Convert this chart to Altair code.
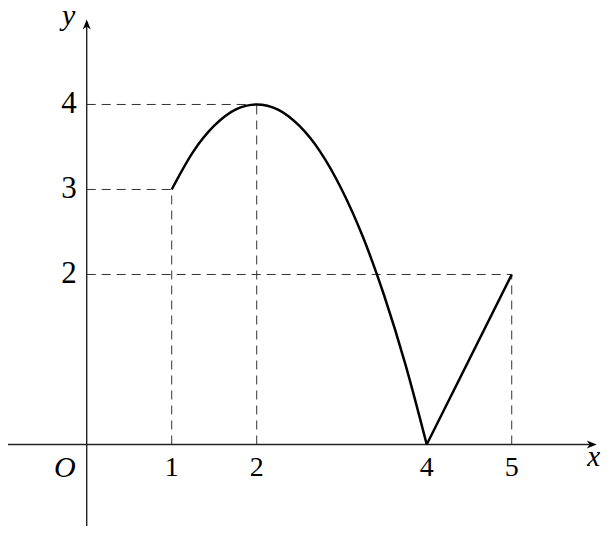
import altair as alt
import pandas as pd

# ---- data ----
curve_x = [1.0, 1.25, 1.5, 1.75, 2.0, 2.25, 2.5, 2.75, 3.0, 3.25, 3.5, 3.75, 4.0]
curve_y = [3.0, 3.44, 3.75, 3.94, 4.0, 3.94, 3.75, 3.44, 3.0, 2.44, 1.75, 0.94, 0.0]
seg_x = [4, 5]
seg_y = [0, 2]
key_x = [1, 2, 5]          # points with dashed guides
key_y = [3, 4, 2]
xtick_vals = [1, 2, 4, 5]
ytick_vals = [2, 3, 4]
x_axis_range = [-1, 6]
y_axis_range = [-1, 5]

FONT = "'Liberation Serif', 'Times New Roman', Times, serif"
xs = alt.Scale(domain=[-0.926, 6.062], nice=False, zero=False)
ys = alt.Scale(domain=[-0.959, 5.135], nice=False, zero=False)

curve_df = pd.DataFrame({"x": curve_x, "y": curve_y})
seg_df = pd.DataFrame({"x": seg_x, "y": seg_y})
key_df = pd.DataFrame({"x": key_x, "y": key_y, "x0": [0] * len(key_x), "y0": [0] * len(key_y)})
xt_df = pd.DataFrame({"x": xtick_vals, "y": [0] * len(xtick_vals), "t": [str(v) for v in xtick_vals]})
yt_df = pd.DataFrame({"x": [0] * len(ytick_vals), "y": ytick_vals, "t": [str(v) for v in ytick_vals]})
xaxis_df = pd.DataFrame({"x": [x_axis_range[0]], "x2": [x_axis_range[1] - 0.05], "y": [0]})
yaxis_df = pd.DataFrame({"y": [y_axis_range[0]], "y2": [y_axis_range[1] - 0.05], "x": [0]})
xarrow_df = pd.DataFrame({"x": [x_axis_range[1]], "y": [0]})
yarrow_df = pd.DataFrame({"x": [0], "y": [y_axis_range[1]]})
orig_df = pd.DataFrame({"x": [0], "y": [0], "t": ["O"]})
xlab_df = pd.DataFrame({"x": [x_axis_range[1]], "y": [0], "t": ["x"]})
ylab_df = pd.DataFrame({"x": [0], "y": [y_axis_range[1]], "t": ["y"]})

AX = "#222222"
DASH = "#333333"

x_axis = alt.Chart(xaxis_df).mark_rule(color=AX, strokeWidth=1.4).encode(
    x=alt.X("x:Q", scale=xs, axis=None), x2="x2:Q", y=alt.Y("y:Q", scale=ys, axis=None))
y_axis = alt.Chart(yaxis_df).mark_rule(color=AX, strokeWidth=1.4).encode(
    y=alt.Y("y:Q", scale=ys, axis=None), y2="y2:Q", x=alt.X("x:Q", scale=xs, axis=None))

x_arrow = alt.Chart(xarrow_df).mark_point(
    shape="M0,0 L-2,-0.8 L-1.4,0 L-2,0.8 Z", filled=True, size=100, color="#000", opacity=1, strokeWidth=0
).encode(x=alt.X("x:Q", scale=xs, axis=None), y=alt.Y("y:Q", scale=ys, axis=None))
y_arrow = alt.Chart(yarrow_df).mark_point(
    shape="M0,0 L-0.8,2 L0,1.4 L0.8,2 Z", filled=True, size=100, color="#000", opacity=1, strokeWidth=0
).encode(x=alt.X("x:Q", scale=xs, axis=None), y=alt.Y("y:Q", scale=ys, axis=None))

h_dash = alt.Chart(key_df).mark_rule(color=DASH, strokeWidth=1, strokeDash=[9, 6]).encode(
    x=alt.X("x0:Q", scale=xs, axis=None), x2="x:Q", y=alt.Y("y:Q", scale=ys, axis=None))
v_dash = alt.Chart(key_df).mark_rule(color=DASH, strokeWidth=1, strokeDash=[9, 6]).encode(
    x=alt.X("x:Q", scale=xs, axis=None), y=alt.Y("y0:Q", scale=ys, axis=None), y2="y:Q")

curve = alt.Chart(curve_df).mark_line(color="#000", strokeWidth=2.5, interpolate="monotone").encode(
    x=alt.X("x:Q", scale=xs, axis=None), y=alt.Y("y:Q", scale=ys, axis=None))
seg = alt.Chart(seg_df).mark_line(color="#000", strokeWidth=2.5).encode(
    x=alt.X("x:Q", scale=xs, axis=None), y=alt.Y("y:Q", scale=ys, axis=None))

xt = alt.Chart(xt_df).mark_text(font=FONT, fontSize=28, align="center", baseline="middle", dy=24, color="#000").encode(
    x=alt.X("x:Q", scale=xs, axis=None), y=alt.Y("y:Q", scale=ys, axis=None), text="t:N")
yt = alt.Chart(yt_df).mark_text(font=FONT, fontSize=31, align="right", baseline="middle", dx=-10, color="#000").encode(
    x=alt.X("x:Q", scale=xs, axis=None), y=alt.Y("y:Q", scale=ys, axis=None), text="t:N")
orig = alt.Chart(orig_df).mark_text(font=FONT, fontSize=30, fontStyle="italic", align="center", baseline="middle",
                                    dx=-22, dy=24, color="#000").encode(
    x=alt.X("x:Q", scale=xs, axis=None), y=alt.Y("y:Q", scale=ys, axis=None), text="t:N")
xlab = alt.Chart(xlab_df).mark_text(font=FONT, fontSize=29, fontStyle="italic", align="center", baseline="alphabetic",
                                    dx=-3, dy=22, color="#000").encode(
    x=alt.X("x:Q", scale=xs, axis=None), y=alt.Y("y:Q", scale=ys, axis=None), text="t:N")
ylab = alt.Chart(ylab_df).mark_text(font=FONT, fontSize=30, fontStyle="italic", align="center", baseline="alphabetic",
                                    dx=-18, dy=6, color="#000").encode(
    x=alt.X("x:Q", scale=xs, axis=None), y=alt.Y("y:Q", scale=ys, axis=None), text="t:N")

chart = alt.layer(
    h_dash, v_dash, x_axis, y_axis, x_arrow, y_arrow, curve, seg, xt, yt, orig, xlab, ylab
).properties(
    width=594, height=518, padding=0, autosize=alt.AutoSizeParams(type="none")
).configure_view(stroke=None)

chart.save("out.html", embed_options={"renderer": "svg", "actions": False})
